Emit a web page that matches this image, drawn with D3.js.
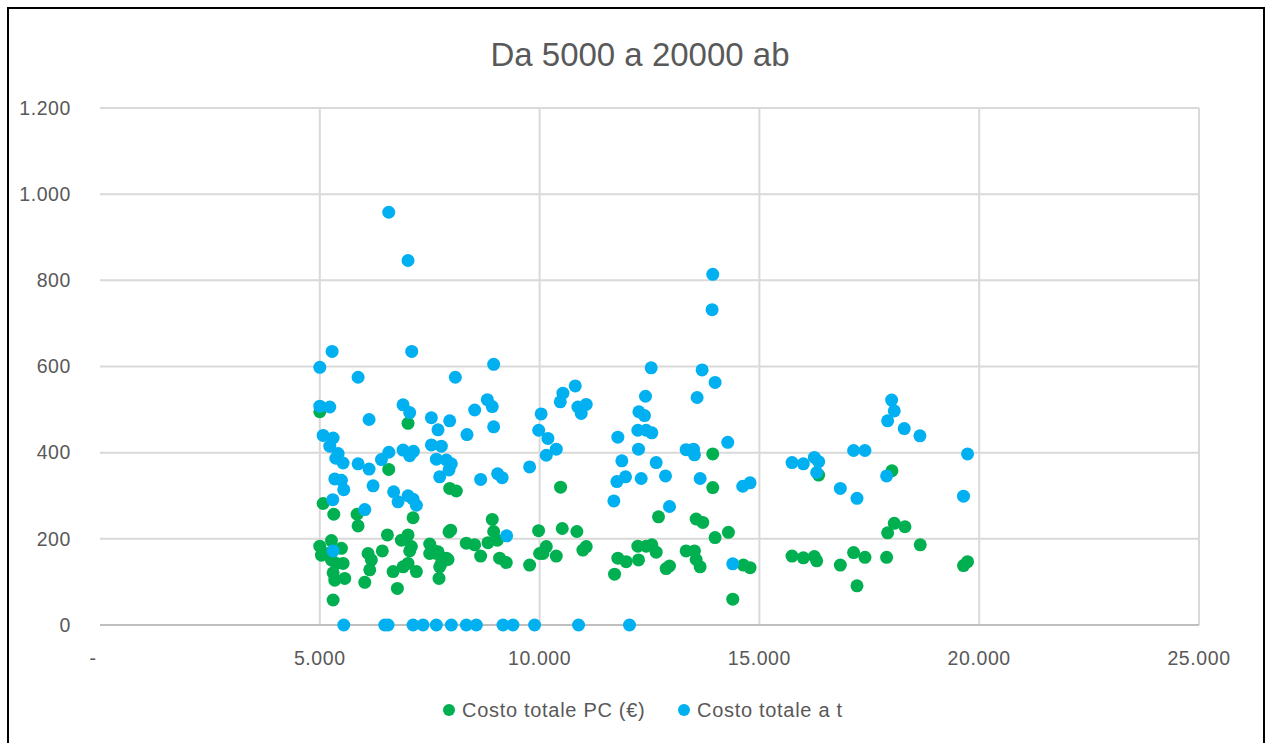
<!DOCTYPE html>
<html>
<head>
<meta charset="utf-8">
<title>Da 5000 a 20000 ab</title>
<script src="https://cdnjs.cloudflare.com/ajax/libs/d3/7.8.5/d3.min.js"></script>
<style>
body { margin: 0; background: #fff; }
svg { display: block; }
.title { font-family: "Liberation Sans", Arial, sans-serif; font-size: 33px; fill: #595959; text-anchor: middle; }
.tick-label { font-family: "Liberation Sans", Arial, sans-serif; font-size: 19.5px; letter-spacing: 0.6px; fill: #595959; }
.grid { stroke: #d9d9d9; stroke-width: 2; }
.legend-label { font-family: "Liberation Sans", Arial, sans-serif; font-size: 20px; letter-spacing: 0.7px; fill: #595959; dominant-baseline: central; }
</style>
</head>
<body>
<svg width="1268" height="743"></svg>
<script>
var title = "Da 5000 a 20000 ab";
var seriesNames = ["Costo totale PC (€)", "Costo totale a t"];
var seriesColors = ["#00b050", "#00b0f0"];
var xTicks = [0, 5000, 10000, 15000, 20000, 25000];
var yTicks = [0, 200, 400, 600, 800, 1000, 1200];

// [abitanti, costo]
var costoPC = [
  [5000,495],[5000,183],[5038,162],[5076,282],[5189,166],[5265,151],[5265,196],[5303,121],
  [5303,58],[5318,257],[5341,104],[5379,143],[5492,178],[5530,143],[5568,108],[5848,257],
  [5871,230],[6023,99],[6098,166],[6136,128],[6174,151],[6422,172],[6538,209],[6568,361],
  [6667,124],[6765,85],[6856,197],[6894,135],[7007,468],[7007,209],[7007,143],[7045,172],
  [7083,182],[7121,249],[7197,124],[7500,188],[7500,166],[7576,174],[7652,166],[7689,170],
  [7712,108],[7727,135],[7765,143],[7879,155],[7917,152],[7955,317],[7939,216],[7977,220],
  [8106,311],[8333,190],[8523,186],[8659,160],[8826,191],[8923,245],[8955,217],[9038,197],
  [9091,155],[9242,145],[9773,139],[9977,219],[10000,166],[10076,166],[10152,182],[10379,160],
  [10477,320],[10515,224],[10848,217],[10985,174],[11061,182],[11705,118],[11780,155],[11970,147],
  [12250,151],[12235,183],[12424,183],[12553,186],[12652,169],[12705,251],[12879,131],[12955,137],
  [13333,172],[13523,172],[13561,152],[13652,135],[13561,246],[13712,238],[13939,397],[13939,319],
  [13992,203],[14295,215],[14394,60],[14636,139],[14788,133],[15742,160],[16000,156],[16250,159],
  [16303,149],[16348,348],[16841,139],[17143,168],[17220,91],[17401,157],[17894,157],[17917,214],
  [18015,358],[18068,236],[18311,228],[18659,186],[19643,138],[19735,147]
];

var costoT = [
  [5000,598],[5000,508],[5227,506],[5280,635],[5076,440],[5303,434],[5227,415],[5417,398],
  [5364,387],[5530,376],[5871,575],[5871,374],[6121,477],[6121,362],[6402,384],[6570,401],
  [6568,958],[6894,511],[6894,406],[7007,846],[7045,493],[7091,635],[7045,393],[7130,403],
  [7538,481],[7538,418],[7689,453],[7765,415],[7955,474],[8083,575],[8348,442],[8523,499],
  [8811,523],[8923,507],[8955,605],[8955,460],[10035,490],[9980,452],[10189,433],[10152,394],
  [10379,408],[9773,367],[7652,385],[7879,383],[7992,374],[7939,360],[7727,344],[5341,339],
  [5492,336],[5545,314],[6212,323],[6680,309],[6780,286],[7007,300],[7121,292],[7197,278],
  [8659,338],[9045,351],[9148,342],[5295,291],[6023,268],[9250,207],[5303,172],
  [5545,0],[6477,0],[6553,0],[7121,0],[7348,0],[7651,0],[7992,0],[8333,0],[8561,0],
  [9167,0],[9394,0],[9886,0],[10886,0],[12045,0],
  [13939,814],[13924,732],[12538,597],[13697,592],[13992,563],[13583,528],[12409,531],[10811,555],
  [10530,538],[10470,518],[10871,506],[11061,512],[10947,491],[11780,436],[12258,495],[12386,486],
  [12235,452],[12424,452],[12553,446],[12250,408],[13333,407],[13500,408],[13523,395],[14280,424],
  [11871,381],[12652,377],[12864,346],[11758,333],[11955,344],[12311,340],[13652,340],[14621,322],
  [14788,330],[11689,288],[12955,275],[14394,142],
  [18008,522],[18068,497],[17917,474],[18295,456],[18652,439],[19735,397],[17143,405],[17401,405],
  [15742,377],[16000,374],[16250,389],[16348,379],[16303,354],[16841,317],[17220,294],[17894,346],
  [19643,299]
];

var svg = d3.select("svg");
var itLocale = d3.formatLocale({ decimal: ",", thousands: ".", grouping: [3], currency: ["€", ""] });
var fmt = itLocale.format(",d");

var x = d3.scaleLinear().domain([0, 25000]).range([100, 1199]);
var y = d3.scaleLinear().domain([0, 1200]).range([625, 108]);

// outer frame
svg.append("rect")
  .attr("x", 8).attr("y", 8)
  .attr("width", 1256).attr("height", 760)
  .attr("fill", "none")
  .attr("stroke", "#000")
  .attr("stroke-width", 2);

svg.append("text")
  .attr("class", "title")
  .attr("x", 640).attr("y", 66)
  .text(title);

var g = svg.append("g");

// gridlines
g.selectAll(".hgrid")
  .data(yTicks.filter(function(d) { return d > 0; }))
  .enter().append("line")
  .attr("class", "grid")
  .attr("x1", x(0)).attr("x2", x(25000))
  .attr("y1", function(d) { return y(d); })
  .attr("y2", function(d) { return y(d); });

g.selectAll(".vgrid")
  .data(xTicks.filter(function(d) { return d > 0; }))
  .enter().append("line")
  .attr("class", "grid")
  .attr("y1", y(0)).attr("y2", y(1200))
  .attr("x1", function(d) { return x(d); })
  .attr("x2", function(d) { return x(d); });

// x axis line
g.append("line")
  .attr("x1", x(0)).attr("x2", x(25000))
  .attr("y1", y(0)).attr("y2", y(0))
  .attr("stroke", "#bfbfbf")
  .attr("stroke-width", 2);

// y tick labels
g.selectAll(".ylab")
  .data(yTicks)
  .enter().append("text")
  .attr("class", "tick-label")
  .attr("x", 71)
  .attr("y", function(d) { return y(d); })
  .attr("dy", "0.35em")
  .attr("text-anchor", "end")
  .text(function(d) { return fmt(d); });

// x tick labels
g.selectAll(".xlab")
  .data(xTicks)
  .enter().append("text")
  .attr("class", "tick-label")
  .attr("x", function(d) { return d === 0 ? x(d) - 7 : x(d); })
  .attr("y", 665)
  .attr("text-anchor", "middle")
  .text(function(d) { return d === 0 ? "-" : fmt(d); });

// points
[costoPC, costoT].forEach(function(data, i) {
  g.append("g").selectAll("circle")
    .data(data)
    .enter().append("circle")
    .attr("cx", function(d) { return x(d[0]); })
    .attr("cy", function(d) { return y(d[1]); })
    .attr("r", 6.5)
    .attr("fill", seriesColors[i]);
});

// legend
var legendX = [449, 684];
var legend = svg.append("g");
seriesNames.forEach(function(name, i) {
  legend.append("circle")
    .attr("cx", legendX[i]).attr("cy", 710)
    .attr("r", 6)
    .attr("fill", seriesColors[i]);
  legend.append("text")
    .attr("class", "legend-label")
    .attr("x", legendX[i] + 13).attr("y", 710)
    .text(name);
});
</script>
</body>
</html>
